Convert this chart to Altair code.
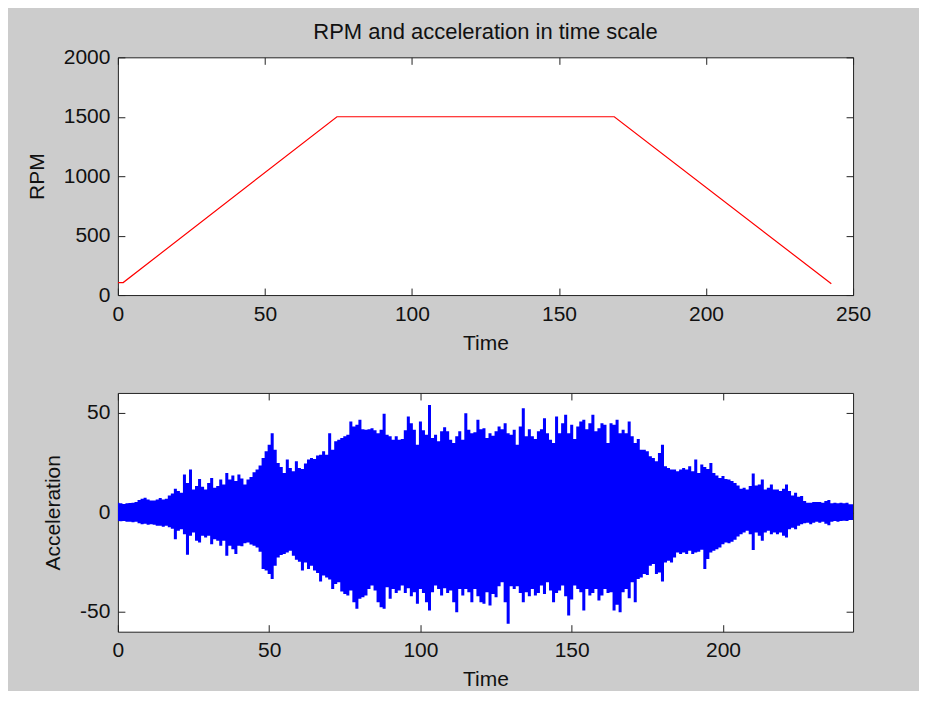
import altair as alt
import pandas as pd

# ---------------- data ----------------
rpm_time = [0, 1.8, 74.5, 168.8, 242.6]
rpm_value = [105, 105, 1500, 1500, 95]

acc_upper = [
    4.8, 4.5, 4.2, 4.5, 4.7, 4.8, 5.2, 6.2, 6.8, 7.3,
    6.5, 6.0, 6.0, 6.5, 7.2, 6.5, 6.8, 8.5, 9.5, 11.8,
    10.7, 9.8, 19.0, 14.8, 21.5, 11.5, 13.2, 16.8, 12.8, 11.5,
    14.8, 17.3, 12.3, 13.2, 16.5, 14.0, 19.8, 16.5, 18.5, 15.7,
    19.0, 17.0, 14.0, 16.5, 17.8, 20.2, 21.5, 23.5, 27.3, 30.7,
    34.0, 39.8, 31.5, 24.8, 22.8, 19.8, 26.5, 22.3, 20.7, 25.7,
    22.3, 21.8, 24.5, 26.5, 27.3, 26.8, 28.5, 29.0, 30.7, 29.0,
    39.8, 31.5, 35.7, 36.5, 37.3, 38.2, 39.0, 45.7, 43.2, 44.0,
    46.5, 41.8, 41.5, 41.8, 42.3, 41.2, 39.8, 41.5, 49.5, 39.0,
    38.2, 36.5, 38.2, 36.5, 36.8, 41.2, 48.2, 44.8, 41.5, 34.0,
    45.7, 41.2, 39.0, 54.0, 37.3, 39.0, 35.7, 40.7, 42.8, 40.7,
    36.5, 34.8, 38.2, 40.7, 36.5, 49.8, 41.5, 39.8, 40.2, 46.5,
    41.8, 42.3, 37.3, 39.8, 38.5, 40.7, 43.2, 41.8, 44.8, 39.8,
    39.0, 41.5, 34.0, 43.2, 52.3, 38.2, 41.8, 38.2, 36.8, 40.7,
    41.8, 47.3, 39.8, 36.5, 34.8, 48.2, 39.8, 44.8, 49.0, 39.8,
    44.0, 36.8, 43.2, 45.7, 46.5, 41.8, 44.8, 49.0, 40.7, 42.3,
    44.8, 44.0, 34.8, 44.8, 44.0, 46.5, 39.8, 41.5, 39.8, 45.7,
    38.2, 34.8, 36.8, 31.5, 31.5, 30.7, 28.2, 27.3, 25.7, 29.8,
    34.0, 23.2, 22.3, 21.5, 21.5, 20.7, 21.5, 22.3, 21.5, 23.2,
    20.7, 26.5, 19.8, 24.0, 22.8, 21.8, 24.8, 19.8, 18.5, 17.3,
    18.2, 16.8, 16.5, 15.7, 14.8, 13.5, 11.8, 12.3, 11.5, 13.2,
    19.5, 13.5, 14.0, 16.5, 11.5, 12.3, 14.0, 11.5, 11.5, 10.7,
    11.8, 14.0, 10.7, 8.5, 9.8, 7.8, 8.2, 5.7, 4.8, 4.8,
    5.2, 5.2, 5.2, 4.8, 5.7, 6.2, 4.5, 4.8, 4.5, 4.8,
    4.5, 4.8, 4.0, 4.0,
]
acc_lower = [
    -4.3, -4.5, -4.3, -4.8, -4.7, -5.0, -4.8, -5.5, -6.0, -5.8,
    -6.2, -6.0, -6.3, -6.8, -6.8, -7.2, -6.8, -7.5, -8.2, -13.5,
    -9.3, -8.5, -11.0, -21.3, -11.8, -10.2, -14.3, -15.2, -11.8, -12.7,
    -11.8, -16.0, -13.5, -14.3, -16.8, -14.3, -21.8, -16.8, -18.5, -21.0,
    -16.8, -17.0, -15.5, -15.2, -16.2, -16.8, -17.7, -19.8, -28.5, -29.3,
    -31.0, -33.5, -26.8, -22.7, -21.5, -21.0, -20.2, -19.3, -21.8, -23.8,
    -24.8, -29.3, -25.2, -28.5, -26.8, -29.3, -30.5, -34.8, -31.8, -32.7,
    -33.8, -38.5, -36.0, -35.2, -39.8, -41.0, -41.8, -39.3, -45.2, -48.5,
    -43.5, -42.7, -41.8, -38.5, -36.8, -39.3, -45.2, -47.7, -48.5, -37.7,
    -43.5, -38.5, -40.5, -39.3, -36.8, -40.5, -38.2, -42.2, -40.2, -46.0,
    -38.5, -40.5, -45.2, -49.3, -40.2, -36.8, -38.5, -41.8, -38.2, -40.5,
    -39.3, -45.2, -50.2, -38.5, -41.8, -38.5, -40.2, -45.2, -38.5, -42.2,
    -45.2, -46.0, -40.2, -46.8, -41.0, -42.7, -37.2, -35.2, -45.2, -56.0,
    -37.2, -38.5, -37.2, -40.5, -45.2, -40.2, -42.2, -38.5, -41.8, -40.5,
    -36.8, -41.0, -35.2, -39.3, -45.2, -40.5, -39.3, -36.8, -42.2, -51.8,
    -43.8, -36.8, -38.5, -40.2, -49.3, -38.5, -41.8, -40.5, -38.5, -44.3,
    -41.8, -38.5, -40.5, -40.2, -49.3, -46.5, -50.2, -40.2, -38.5, -43.2,
    -35.2, -45.2, -33.5, -32.7, -31.0, -31.5, -26.8, -26.0, -31.0, -30.2,
    -34.8, -25.2, -24.3, -25.2, -22.7, -20.2, -21.0, -20.2, -21.0, -19.3,
    -21.0, -20.2, -19.8, -18.8, -28.5, -23.5, -20.2, -19.3, -18.5, -17.7,
    -16.0, -15.2, -15.5, -14.8, -13.8, -12.2, -11.0, -10.2, -9.3, -11.0,
    -19.0, -10.2, -11.8, -14.3, -10.2, -9.3, -11.0, -10.2, -11.0, -10.2,
    -11.8, -12.7, -8.5, -7.7, -8.5, -6.8, -6.0, -5.5, -5.2, -6.0,
    -5.2, -4.8, -5.2, -4.8, -5.8, -6.5, -4.8, -4.3, -4.7, -4.3,
    -4.2, -4.3, -3.8, -3.8,
]
acc_time = list(range(len(acc_upper)))

rpm_x_ticks = [0, 50, 100, 150, 200, 250]
rpm_y_ticks = [0, 500, 1000, 1500, 2000]
acc_x_ticks = [0, 50, 100, 150, 200]
acc_y_ticks = [-50, 0, 50]

# ---------------- styling ----------------
FONT = "Liberation Sans"
TXT = "#111111"
W, H1, H2 = 736, 238, 239
TICK = 7
LBL = 21

rpm_df = pd.DataFrame({"Time": rpm_time, "RPM": rpm_value})
acc_df = pd.DataFrame({"Time": acc_time, "hi": acc_upper, "lo": acc_lower})

AX = dict(labelFont=FONT, labelFontSize=LBL, labelColor=TXT, titleFont=FONT,
          titleFontSize=LBL, titleColor=TXT, titleFontWeight="normal", grid=False,
          labelFlush=False, labelOverlap=False, labelExpr="'' + datum.value")


def label_x(ticks):
    return alt.Axis(orient="bottom", values=ticks, ticks=False, domain=False,
                    labelPadding=8, title="Time", titlePadding=8, **AX)


def label_y(ticks, title):
    return alt.Axis(orient="left", values=ticks, ticks=False, domain=False,
                    labelPadding=8, title=title, titlePadding=16, **AX)


def tick_axis(orient, ticks):
    return alt.Axis(orient=orient, values=ticks, ticks=True, tickSize=TICK,
                    tickColor="#222222", tickWidth=1, offset=-TICK, labels=False,
                    domain=False, grid=False, title=None)


def panel(df, mark_main, mark_ghost, yfield, xdom, ydom, xt, yt, ytitle, extra=None):
    xs = alt.Scale(domain=xdom, nice=False, zero=False)
    ys = alt.Scale(domain=ydom, nice=False, zero=False)
    enc_extra = extra or {}
    l1 = mark_main.encode(
        x=alt.X("Time:Q", scale=xs, axis=label_x(xt)),
        y=alt.Y(f"{yfield}:Q", scale=ys, axis=label_y(yt, ytitle)),
        **enc_extra,
    )
    l2 = mark_ghost.encode(
        x=alt.X("Time:Q", scale=xs, axis=tick_axis("bottom", xt)),
        y=alt.Y(f"{yfield}:Q", scale=ys, axis=tick_axis("left", yt)),
    )
    l3 = mark_ghost.encode(
        x=alt.X("Time:Q", scale=xs, axis=tick_axis("top", xt)),
        y=alt.Y(f"{yfield}:Q", scale=ys, axis=tick_axis("right", yt)),
    )
    return alt.layer(l1, l2, l3, data=df).resolve_axis(x="independent", y="independent")


top = panel(
    rpm_df,
    alt.Chart().mark_line(color="#ff0000", strokeWidth=1.2, clip=True),
    alt.Chart().mark_line(opacity=0),
    "RPM", [0, 250], [0, 2000], rpm_x_ticks, rpm_y_ticks, "RPM",
).properties(
    width=W, height=H1,
    title=alt.Title("RPM and acceleration in time scale", font=FONT, fontSize=22,
                    fontWeight="normal", color=TXT, anchor="middle", frame="group",
                    offset=2),
)

bottom = panel(
    acc_df,
    alt.Chart().mark_area(color="#0000ff", interpolate="step", clip=True),
    alt.Chart().mark_line(opacity=0),
    "hi", [0, 243], [-60, 60], acc_x_ticks, acc_y_ticks, "Acceleration",
    extra={"y2": alt.Y2("lo:Q")},
).properties(width=W, height=H2)

chart = alt.vconcat(top, bottom, spacing=38).properties(
    padding={"left": 17, "top": 12, "right": 47, "bottom": 0},
    background="#cccccc",
).configure_view(stroke="#222222", strokeWidth=1, fill="white")

chart.save("out.html", embed_options={"renderer": "svg", "actions": False})
